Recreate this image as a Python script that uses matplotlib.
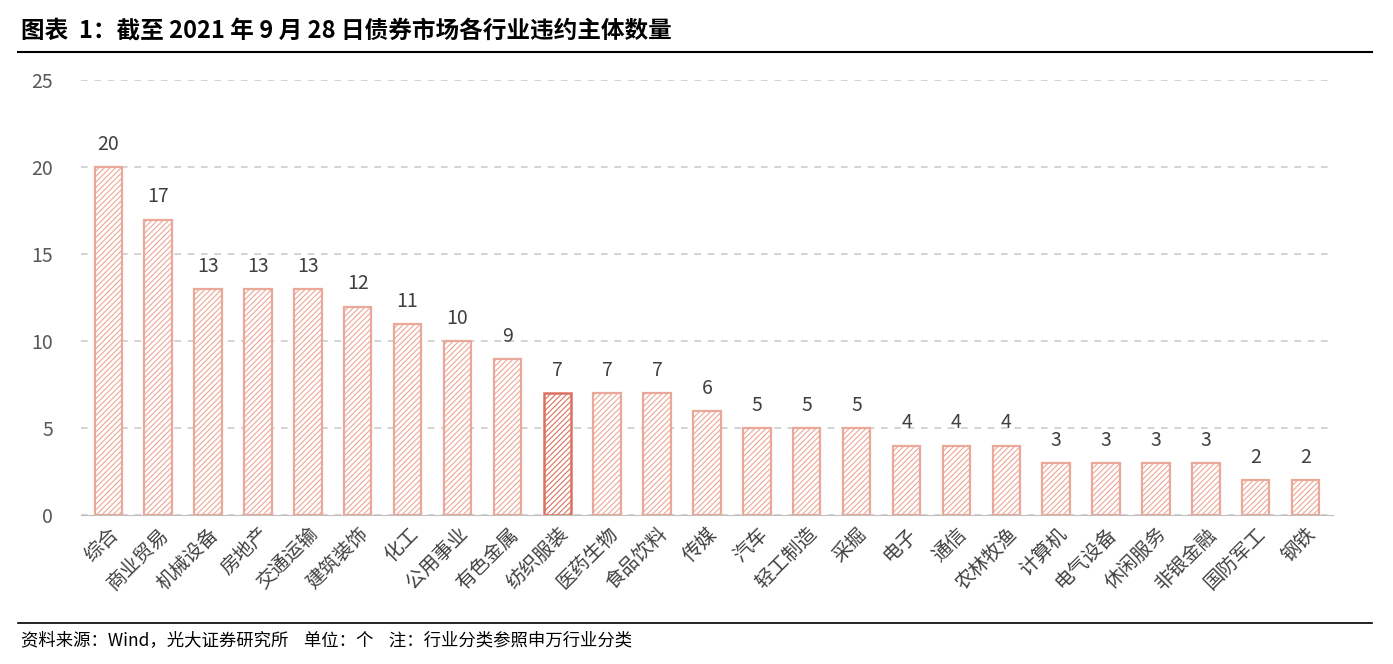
import matplotlib
matplotlib.use("Agg")
import matplotlib.pyplot as plt

plt.rcParams['font.family'] = ['Noto Sans CJK SC']
plt.rcParams['hatch.linewidth'] = 0.8

categories = ["综合","商业贸易","机械设备","房地产","交通运输","建筑装饰","化工","公用事业","有色金属","纺织服装",
              "医药生物","食品饮料","传媒","汽车","轻工制造","采掘","电子","通信","农林牧渔","计算机",
              "电气设备","休闲服务","非银金融","国防军工","钢铁"]
values = [20,17,13,13,13,12,11,10,9,7,7,7,6,5,5,5,4,4,4,3,3,3,3,2,2]
highlight = "纺织服装"

fig = plt.figure(figsize=(13.93,6.64), dpi=100)
ax = fig.add_axes([0.058, 0.224, 0.899, 0.655])
x = range(len(categories))
for i,(c,v) in enumerate(zip(categories, values)):
    ec = '#d9735f' if c == highlight else '#eaa898'
    ax.bar(i, v, width=0.55, facecolor='white', edgecolor=ec, hatch='//////', linewidth=1.8 if c==highlight else 1.6, zorder=3)
    ax.text(i, v+0.7, str(v), ha='center', va='bottom', fontsize=14, color='#404040')
ax.set_ylim(0,25)
ax.set_xlim(-0.55, len(categories)-0.45)
ax.set_yticks(range(0,26,5))
ax.yaxis.grid(True, linestyle=(0,(4,4)), color='#cccccc', linewidth=1.2, zorder=0)
ax.set_xticks(list(x))
ax.set_xticklabels(categories, rotation=45, ha='right', rotation_mode='anchor', fontsize=14, color='#404040')
ax.tick_params(axis='y', labelsize=14, colors='#595959', length=0, pad=20)
ax.tick_params(axis='x', length=0, pad=6)
for s in ['top','right','left']:
    ax.spines[s].set_visible(False)
ax.spines['bottom'].set_color('#bfbfbf')

fig.text(0.015, 0.943, "图表  1：截至 2021 年 9 月 28 日债券市场各行业违约主体数量", fontsize=17, fontweight='bold', color='black')
fig.add_artist(plt.Line2D([0.013,0.985],[0.922,0.922], color='black', linewidth=1.5))
fig.add_artist(plt.Line2D([0.013,0.985],[0.062,0.062], color='black', linewidth=1.2))
fig.text(0.015, 0.028, "资料来源：Wind，光大证券研究所    单位：个    注：行业分类参照申万行业分类", fontsize=12.5, color='black')
fig.savefig("out.png", dpi=100)
